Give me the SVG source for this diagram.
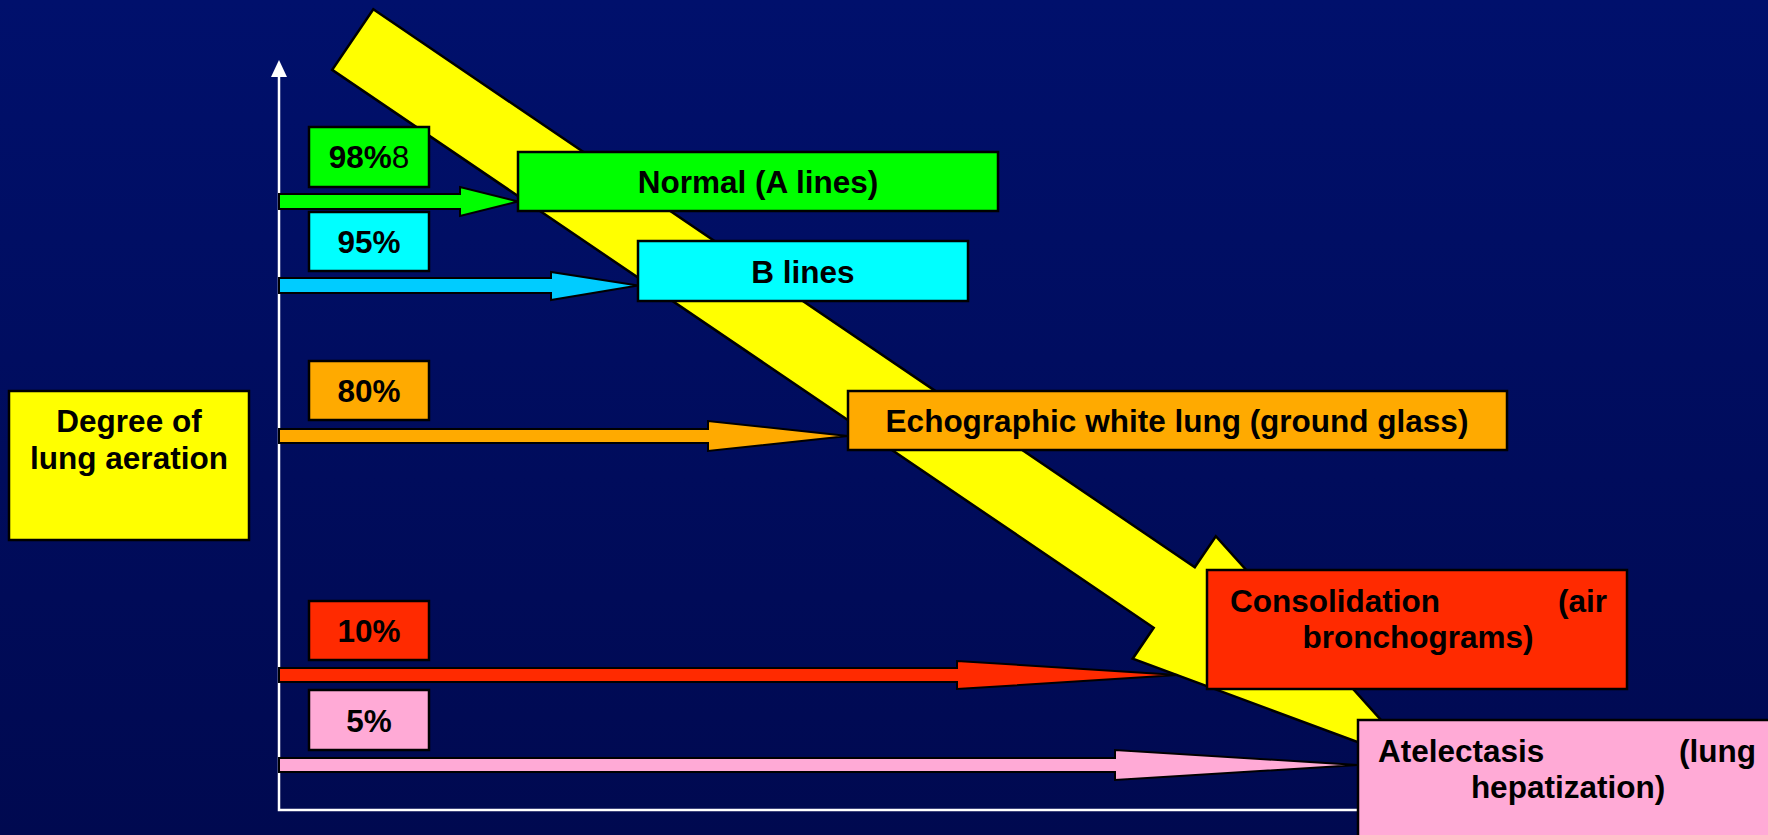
<svg xmlns="http://www.w3.org/2000/svg" width="1768" height="835" viewBox="0 0 1768 835">
<defs>
<linearGradient id="bg" x1="0" y1="0" x2="0" y2="1">
<stop offset="0" stop-color="#00106C"/>
<stop offset="1" stop-color="#000950"/>
</linearGradient>
</defs>
<style>
.box{stroke:#000;stroke-width:2.5}
.arr{stroke:#000;stroke-width:2;stroke-linejoin:miter}
.t{font-family:"Liberation Sans",Arial,sans-serif;font-weight:bold;font-size:31.5px;fill:#000}
.c{text-anchor:middle}
.e{text-anchor:end}
.axis{stroke:#fff;stroke-width:2.5;fill:none}
.g{fill:#00FF00}.cy{fill:#00FFFF}.cya{fill:#00CCFF}.o{fill:#FFAA00}.r{fill:#FF2A00}.p{fill:#FFAAD6}.y{fill:#FFFF00}
</style>
<rect x="0" y="0" width="1768" height="835" fill="url(#bg)"/>

<g id="axes">
<polyline class="axis" points="279,72 279,810 1358,810"/>
<polygon points="279,60 271,77 287,77" fill="#fff"/>
</g>

<g id="trend-arrow">
<polygon class="y" stroke="#000" stroke-width="2.5" transform="translate(352.75,39.6) rotate(34.18)" points="0,-36.6 993,-36.6 993,-74 1293,0 993,74 993,36.6 0,36.6"/>
</g>

<g id="degree">
<rect class="box y" x="9" y="391" width="240" height="149"/>
<text class="t c" x="129" y="432">Degree of</text>
<text class="t c" x="129" y="469">lung aeration</text>
</g>

<g id="p98">
<rect class="box g" x="309" y="127" width="120" height="60"/>
<text class="t c" x="369" y="168">98%<tspan font-weight="normal">8</tspan></text>
</g>
<g id="p95">
<rect class="box cy" x="309" y="212" width="120" height="59"/>
<text class="t c" x="369" y="253">95%</text>
</g>
<g id="p80">
<rect class="box o" x="309" y="361" width="120" height="59"/>
<text class="t c" x="369" y="402">80%</text>
</g>
<g id="p10">
<rect class="box r" x="309" y="601" width="120" height="59"/>
<text class="t c" x="369" y="642">10%</text>
</g>
<g id="p5">
<rect class="box p" x="309" y="690" width="120" height="60"/>
<text class="t c" x="369" y="732">5%</text>
</g>

<g id="connectors">
<polygon class="arr g" points="279,194 460,194 460,187 518,201.5 460,216 460,209 279,209"/>
<polygon class="arr cya" points="279,278 551,278 551,272 638,285.5 551,300 551,293 279,293"/>
<polygon class="arr o" points="279,429 708,429 708,421 848,436 708,451 708,443 279,443"/>
<polygon class="arr r" points="279,668 957,668 957,661 1178,675 957,689 957,682 279,682"/>
<polygon class="arr p" points="279,758 1115,758 1115,750 1358,765 1115,780 1115,772 279,772"/>
</g>

<g id="normal">
<rect class="box g" x="518" y="152" width="480" height="59"/>
<text class="t c" x="758" y="193">Normal (A lines)</text>
</g>
<g id="blines">
<rect class="box cy" x="638" y="241" width="330" height="60"/>
<text class="t c" x="803" y="283">B lines</text>
</g>
<g id="white-lung">
<rect class="box o" x="848" y="391" width="659" height="59"/>
<text class="t c" x="1177" y="432">Echographic white lung (ground glass)</text>
</g>
<g id="consolidation">
<rect class="box r" x="1207" y="570" width="420" height="119"/>
<text class="t" x="1230" y="612">Consolidation</text>
<text class="t e" x="1607" y="612">(air</text>
<text class="t c" x="1418" y="648">bronchograms)</text>
</g>
<g id="atelectasis">
<rect class="box p" x="1358" y="720" width="422" height="130"/>
<text class="t" x="1378" y="762">Atelectasis</text>
<text class="t e" x="1756" y="762">(lung</text>
<text class="t c" x="1568" y="798">hepatization)</text>
</g>
</svg>
